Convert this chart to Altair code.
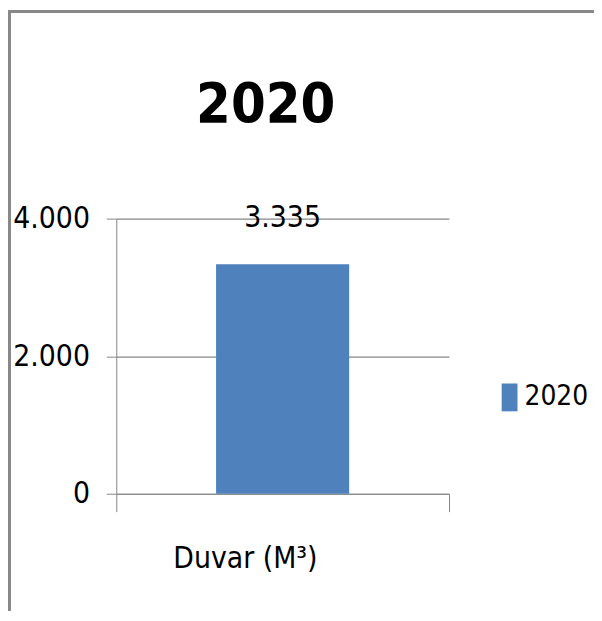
import altair as alt
import pandas as pd

categories = ["Duvar (M³)"]
values = [3335]
series = ["2020"]
y_ticks = [0, 2000, 4000]

df = pd.DataFrame({"kategori": categories, "deger": values, "yil": series})

FONT = "DejaVu Sans Condensed, Roboto, sans-serif"
GRAY = "#868686"
BLUE = "#4F81BD"
FS = 30

base = alt.Chart(df)

x_enc = alt.X(
    "kategori:N",
    title=None,
    scale=alt.Scale(paddingInner=0, paddingOuter=0),
    axis=alt.Axis(
        labelAngle=0,
        labelFontSize=FS,
        labelFont=FONT,
        labelColor="black",
        labelPadding=32,
        labelOffset=-38,
        tickBand="extent",
        tickSize=18,
        tickColor=GRAY,
        domainColor=GRAY,
        grid=False,
    ),
)
y_enc = alt.Y(
    "deger:Q",
    title=None,
    scale=alt.Scale(domain=[0, 4000]),
    axis=alt.Axis(
        values=y_ticks,
        labelExpr="replace(format(datum.value, ','), ',', '.')",
        labelFontSize=FS,
        labelFont=FONT,
        labelColor="black",
        labelPadding=17,
        tickSize=10,
        tickColor=GRAY,
        domainColor=GRAY,
        gridColor=GRAY,
        gridWidth=1.2,
    ),
)

bars = base.mark_bar(color=BLUE, width=alt.RelativeBandSize(0.4)).encode(
    x=x_enc,
    y=y_enc,
    color=alt.Color(
        "yil:N",
        scale=alt.Scale(range=[BLUE]),
        legend=alt.Legend(
            title=None,
            orient="none",
            legendX=382,
            legendY=166,
            padding=0,
            symbolType="M-0.57,-1H0.57V1H-0.57Z",
            symbolSize=784,
            symbolStrokeWidth=0,
            labelFontSize=28,
            labelFont=FONT,
            labelColor="black",
            labelOffset=1,
        ),
    ),
)

labels = base.transform_calculate(
    etiket="replace(format(datum.deger, ','), ',', '.')"
).mark_text(
    fontSize=FS, font=FONT, color="black", baseline="alphabetic", dy=-38
).encode(
    x="kategori:N",
    y="deger:Q",
    text="etiket:N",
)

top_border = base.mark_rule(color="#888888", strokeWidth=3).encode(
    x=alt.value(-109), x2=alt.value(481), y=alt.value(-208.5)
)
left_border = base.mark_rule(color="#888888", strokeWidth=3).encode(
    x=alt.value(-107.5), y=alt.value(-210), y2=alt.value(395)
)

chart = (
    alt.layer(bars, labels, top_border, left_border)
    .properties(
        width=335,
        height=277,
        background="white",
        title=alt.TitleParams(
            "2020",
            fontSize=56,
            font=FONT,
            fontWeight="bold",
            color="black",
            anchor="middle",
            dx=-17,
            offset=-126,
        ),
        autosize=alt.AutoSizeParams(type="none"),
        padding={"left": 109, "top": 210, "right": 146, "bottom": 118},
    )
    .configure_view(stroke="transparent", strokeWidth=0)
)

chart.save("out.html", embed_options={"renderer": "svg", "actions": False})
